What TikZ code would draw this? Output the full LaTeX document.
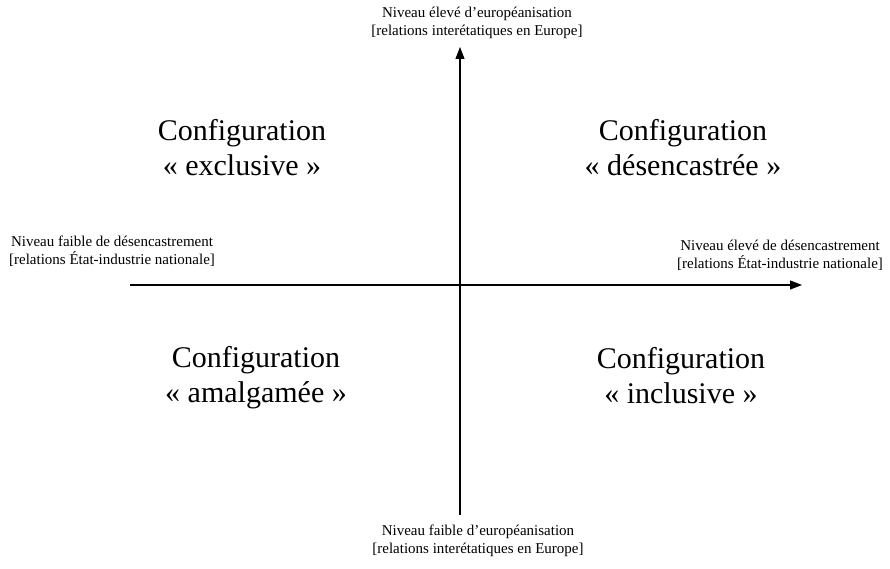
\documentclass[tikz,border=0pt]{standalone}
\usepackage{fontspec}
\setmainfont{Liberation Serif}
\usetikzlibrary{arrows.meta}

\begin{document}
\begin{tikzpicture}[x=1pt, y=-1pt,
    small/.style={font=\fontsize{15}{18}\selectfont, align=center},
    big/.style={font=\fontsize{30}{35}\selectfont, align=center},
    axis/.style={line width=1.1pt, -{Triangle[length=12pt,width=9pt]}}]
    \useasboundingbox (0,0) rectangle (890,569);

    % axes
    \coordinate (west) at (130,285);
    \coordinate (east) at (802,285);
    \coordinate (south) at (460,515);
    \coordinate (north) at (460,47);
    \draw[axis] (west) -- (east);
    \draw[axis] (south) -- (north);

    % axis labels
    \node (top) [small] at (477,23) {Niveau élevé d’européanisation\\{[}relations interétatiques en Europe]};
    \node (bottom) [small] at (478,541) {Niveau faible d’européanisation\\{[}relations interétatiques en Europe]};
    \node (left) [small] at (112,251) {Niveau faible de désencastrement\\{[}relations État-industrie nationale]};
    \node (right) [small] at (780,255) {Niveau élevé de désencastrement\\{[}relations État-industrie nationale]};

    % quadrants
    \node (excl) [big] at (242,148) {Configuration\\« exclusive »};
    \node (desenc) [big] at (683,148) {Configuration\\« désencastrée »};
    \node (amalg) [big] at (256,378) {Configuration\\« amalgamée »};
    \node (incl) [big] at (681,376) {Configuration\\« inclusive »};

\end{tikzpicture}
\end{document}
